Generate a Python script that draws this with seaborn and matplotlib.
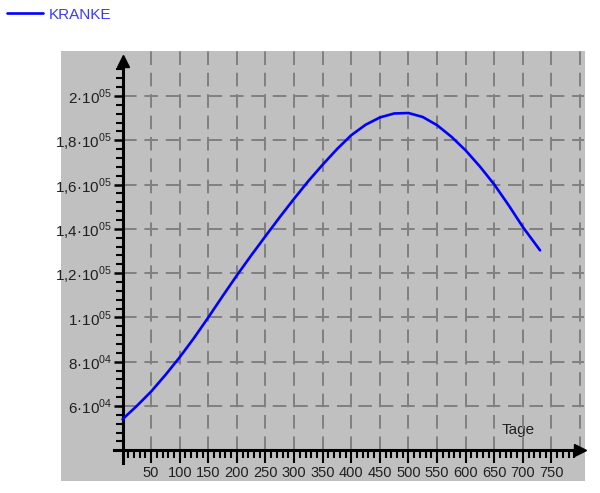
'''
Kranke pro Tag - Nachbau des Diagramms
'''
import matplotlib
matplotlib.use('Agg')
import matplotlib.pyplot as plt
import matplotlib.font_manager as fm
import seaborn as sns
import pandas as pd

# Werte
days = [0, 25, 50, 75, 100, 125, 150, 175, 200, 225, 250, 275, 300, 325, 350,
        375, 400, 425, 450, 475, 500, 525, 550, 575, 600, 625, 650, 675, 700, 730]
kranke = [54000, 60000, 66500, 74000, 82000, 90700, 100000, 109600, 119000, 128000,
          136700, 145300, 153600, 161600, 169000, 176000, 182300, 187000, 190300, 192100,
          192300, 190500, 186800, 181600, 175400, 168100, 160000, 150700, 140800, 130300]

x_ticks = list(range(50, 751, 50))
y_ticks = [40000, 60000, 80000, 100000, 120000, 140000, 160000, 180000, 200000]
y_labels = ['', '6·10$^{04}$', '8·10$^{04}$', '1·10$^{05}$', '1,2·10$^{05}$',
            '1,4·10$^{05}$', '1,6·10$^{05}$', '1,8·10$^{05}$', '2·10$^{05}$']

df = pd.DataFrame({'Tage': days, 'KRANKE': kranke})

# Schriften
names = {f.name for f in fm.fontManager.ttflist}
tick_font = 'Liberation Sans Narrow' if 'Liberation Sans Narrow' in names else 'Liberation Sans'
sns.set_style('white')
plt.rcParams['font.family'] = ['Liberation Sans', 'DejaVu Sans']
plt.rcParams['mathtext.fontset'] = 'custom'
plt.rcParams['mathtext.rm'] = tick_font

fig = plt.figure(figsize=(6, 4.93), dpi=100)
ax = fig.add_axes([0.1017, 0.0243, 0.8733, 0.8722])
ax.set_facecolor('#c0c0c0')

x_min, x_max = -107.5, 808.6
y_min, y_max = 26100, 220300
ax.set_xlim(x_min, x_max)
ax.set_ylim(y_min, y_max)

# Gitter nur im positiven Bereich
grid_style = dict(color='#808080', linewidth=1.4, linestyles=(0, (7, 4)), zorder=1)
ax.vlines(range(50, 801, 50), 40000, y_max, **grid_style)
ax.hlines(y_ticks[1:], 0, 806, **grid_style)

sns.lineplot(data=df, x='Tage', y='KRANKE', color='#0000ff', linewidth=1.9,
             label='KRANKE', ax=ax, zorder=3)

# Achsen als Pfeile durch den Ursprung
for side in ['top', 'right']:
    ax.spines[side].set_visible(False)
ax.spines['left'].set_position(('data', 0))
ax.spines['bottom'].set_position(('data', 40000))
ax.spines['left'].set_bounds(34300, 215000)
ax.spines['bottom'].set_bounds(-15, 796)
for side in ['left', 'bottom']:
    ax.spines[side].set_linewidth(2.2)
    ax.spines[side].set_color('black')
ax.plot(0, 216000, marker='^', markersize=8, color='black', clip_on=False, zorder=5)
ax.plot(800, 40000, marker='>', markersize=8, color='black', clip_on=False, zorder=5)

ax.set_xticks(x_ticks)
ax.set_xticklabels([str(t) for t in x_ticks], fontfamily=tick_font, fontsize=10.5)
ax.set_xticks(range(10, 791, 10), minor=True)
ax.set_yticks(y_ticks)
ax.set_yticklabels(y_labels, fontfamily=tick_font, fontsize=11)
ax.set_yticks(range(40000, 212001, 4000), minor=True)
ax.tick_params(axis='x', which='both', bottom=True, top=False)
ax.tick_params(axis='y', which='both', left=True, right=False)
ax.tick_params(axis='x', which='major', direction='out', length=9, width=1.5, pad=2,
               colors='black', labelcolor='#202020')
ax.tick_params(axis='x', which='minor', direction='out', length=6, width=1.5, colors='black')
ax.tick_params(axis='y', which='major', direction='out', length=6.5, width=1.8, pad=1,
               colors='black', labelcolor='#202020')
ax.tick_params(axis='y', which='minor', direction='out', length=5, width=1.5, colors='black')

ax.set_ylabel('')
ax.set_xlabel('Tage', fontsize=11, color='#202020')
ax.xaxis.set_label_coords(0.872, 0.118)
ax.xaxis.label.set_verticalalignment('center')

ax.get_legend().remove()
leg = fig.legend(loc='upper left', bbox_to_anchor=(-0.012, 1.012), frameon=False,
                 fontsize=11, handlelength=2.4, handletextpad=0.35)
for text in leg.get_texts():
    text.set_color('#3a3aff')

fig.savefig('out.png', dpi=100, facecolor='white')
